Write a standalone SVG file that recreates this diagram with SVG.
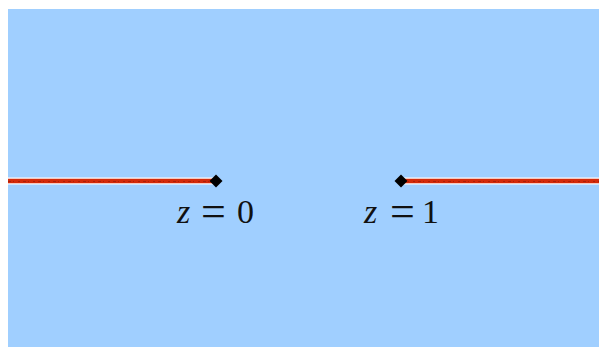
<svg xmlns="http://www.w3.org/2000/svg" width="599" height="347" viewBox="0 0 599 347">
<style>
.cutw{stroke:#ffffff;stroke-width:7;fill:none}
.cut{stroke:#d42a0a;stroke-width:4.5;fill:none}
.cutd{stroke:#a8200a;stroke-width:1.2;fill:none;stroke-dasharray:3 2 1 4 2 3}
.pt{fill:#000}
.t{font-family:"Liberation Serif",serif;font-size:34px;fill:#111}
.eq{font-size:44px}
</style>
<rect x="8" y="9" width="591" height="338" fill="#a0cfff"/>
<g id="connectors">
<line class="cutw" x1="8" y1="181" x2="214" y2="181"/>
<line class="cut" x1="8" y1="181" x2="214" y2="181"/>
<line class="cutd" x1="8" y1="181.5" x2="214" y2="181.5"/>
<line class="cutw" x1="403" y1="181" x2="599" y2="181"/>
<line class="cut" x1="403" y1="181" x2="599" y2="181"/>
<line class="cutd" x1="403" y1="181.5" x2="599" y2="181.5"/>
</g>
<g id="z0">
<polygon class="pt" points="216,174.5 222.5,181 216,187.5 209.5,181"/>
<text class="t" y="223"><tspan font-style="italic" x="177">z</tspan><tspan class="eq" x="201" y="226">=</tspan><tspan x="237" y="223">0</tspan></text>
</g>
<g id="z1">
<polygon class="pt" points="401,174.5 407.5,181 401,187.5 394.5,181"/>
<text class="t" y="223"><tspan font-style="italic" x="364">z</tspan><tspan class="eq" x="390" y="226">=</tspan><tspan x="422" y="223">1</tspan></text>
</g>
</svg>
